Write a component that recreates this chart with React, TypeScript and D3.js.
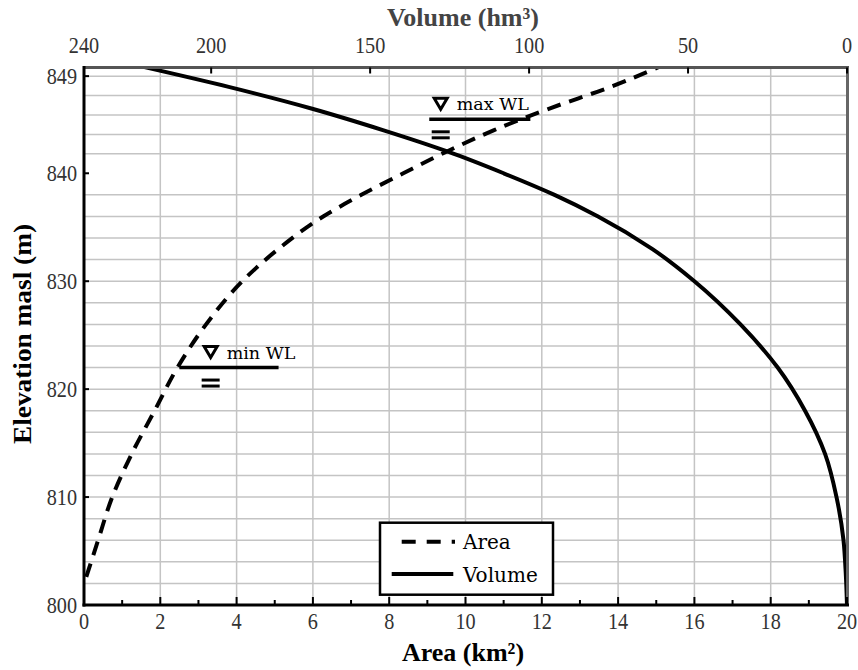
import React from "react";
import * as d3 from "d3";

// ---- data ----
const areaElev = [802.6, 806, 810, 814, 818, 822, 826, 830, 833, 836, 838, 840, 842, 844, 846, 848, 849.9];
const areaKm2 = [0.06, 0.37, 0.74, 1.25, 1.85, 2.45, 3.2, 4.15, 5.1, 6.27, 7.27, 8.37, 9.5, 10.75, 12.2, 13.8, 15.1];
const volElev = [800, 803, 806, 810, 814, 818, 822, 826, 830, 833, 836, 838, 840, 842, 844, 846, 848, 849.9];
const volHm3 = [0, 0.4, 1.1, 3.3, 6.9, 13.2, 21.8, 33.5, 48, 61.3, 78.3, 92, 108, 125.5, 146, 168.5, 194.5, 222];

const areaTicks = [0, 2, 4, 6, 8, 10, 12, 14, 16, 18, 20];
const areaMinorTicks = [1, 3, 5, 7, 9, 11, 13, 15, 17, 19];
const areaGrid = [2, 4, 6, 8, 10, 12, 14, 16, 18];
const volumeTicks = [240, 200, 150, 100, 50, 0];
const elevTicks = [800, 810, 820, 830, 840, 849];
const elevGrid = [802, 804, 806, 808, 810, 812, 814, 816, 818, 820, 822, 824, 826, 828, 830, 832, 834, 836, 838, 841.8, 843.6, 845.4, 847.2, 849];

const wlLabels = ["min WL", "max WL"];
const wlElev = [822, 845];
const wlFrom = [2.5, 9.05];
const wlTo = [5.1, 11.7];
const wlMark = [3.32, 9.35];

const legendLabels = ["Area", "Volume"];
const xTitle = "Area (km²)";
const x2Title = "Volume (hm³)";
const yTitle = "Elevation masl (m)";

export default function App() {
  const W = 858, H = 670;
  const left = 84, right = 847.5, top = 67.5, bottom = 605;
  const x = d3.scaleLinear().domain([0, 20]).range([left, 847]);
  const xv = d3.scaleLinear().domain([240, 0]).range([left, 847]);
  const y = d3.scaleLinear().domain([800, 849.8]).range([bottom, top]);

  const areaPts = areaElev.map((e, i) => [areaKm2[i], e] as [number, number]);
  const volPts = volElev.map((e, i) => [volHm3[i], e] as [number, number]);
  const areaLine = d3.line<[number, number]>().x(d => x(d[0])).y(d => y(d[1])).curve(d3.curveMonotoneY);
  const volLine = d3.line<[number, number]>().x(d => xv(d[0])).y(d => y(d[1])).curve(d3.curveMonotoneY);

  const tickFont = "'Liberation Serif', 'Times New Roman', serif";
  const annFont = "'DejaVu Serif', serif";
  const sx = 0.88;

  const lx = 380, ly = 522.7, lw = 173, lh = 72;

  const num = (key: string, v: number, px: number, py: number, anchor: string) => (
    <text key={key} transform={`translate(${px},${py}) scale(${sx},1)`} textAnchor={anchor}>{v}</text>
  );

  return (
    <svg width={W} height={H} style={{ position: "absolute", left: 0, top: 0, background: "#fff" }}>
      <defs>
        <clipPath id="plot">
          <rect x={left} y={top} width={right - left} height={bottom - top} />
        </clipPath>
      </defs>
      <rect x={0} y={0} width={W} height={H} fill="#fff" />
      {/* grid */}
      <g stroke="#c4c4c4" strokeWidth={1.5}>
        {elevGrid.map(v => (
          <line key={"gy" + v} x1={left} x2={right} y1={y(v)} y2={y(v)} />
        ))}
        {areaGrid.map(v => (
          <line key={"gx" + v} x1={x(v)} x2={x(v)} y1={top} y2={bottom} />
        ))}
      </g>

      {/* curves */}
      <g clipPath="url(#plot)" fill="none" stroke="#000">
        <path d={areaLine(areaPts) || ""} strokeWidth={4} strokeDasharray="14 9" />
        <path d={volLine(volPts) || ""} strokeWidth={4} />
      </g>

      {/* water levels */}
      {wlLabels.map((lab, i) => {
        const yy = y(wlElev[i]);
        const cx = x(wlMark[i]);
        return (
          <g key={lab}>
            <line x1={x(wlFrom[i])} x2={x(wlTo[i])} y1={yy} y2={yy} stroke="#000" strokeWidth={3.5} />
            <path d={`M${cx - 6.5},${yy - 21} L${cx + 6.5},${yy - 21} L${cx},${yy - 10} Z`} fill="#fff" stroke="#000" strokeWidth={3} strokeLinejoin="miter" />
            <text x={cx + 16} y={yy - 9} fontFamily={annFont} fontSize={17.5} fill="#000">{lab}</text>
            <rect x={cx - 9} y={yy + 11} width={18} height={3} fill="#000" />
            <rect x={cx - 9} y={yy + 17} width={18} height={3} fill="#000" />
          </g>
        );
      })}

      {/* frame */}
      <line x1={left} x2={849} y1={top} y2={top} stroke="#555" strokeWidth={3} />
      <line x1={right} x2={right} y1={top} y2={bottom} stroke="#666" strokeWidth={3} />
      <line x1={left} x2={left} y1={66} y2={606.5} stroke="#000" strokeWidth={3} />
      <line x1={82.5} x2={849} y1={bottom} y2={bottom} stroke="#000" strokeWidth={3} />

      {/* ticks */}
      <g stroke="#000" strokeWidth={2}>
        {elevTicks.map(v => (
          <line key={"ty" + v} x1={left} x2={left + 5} y1={y(v)} y2={y(v)} />
        ))}
        {areaTicks.map(v => (
          <line key={"tx" + v} x1={x(v)} x2={x(v)} y1={bottom} y2={bottom - 8} />
        ))}
        {areaMinorTicks.map(v => (
          <line key={"tm" + v} x1={x(v)} x2={x(v)} y1={bottom} y2={bottom - 5} />
        ))}
        {volumeTicks.map(v => (
          <line key={"tv" + v} x1={xv(v)} x2={xv(v)} y1={top} y2={top + 6} />
        ))}
      </g>

      {/* tick labels */}
      <g fontFamily={tickFont} fontSize={23} fill="#333">
        {elevTicks.map(v => num("ly" + v, v, 77, y(v) + 7.5, "end"))}
        {areaTicks.map(v => num("lx" + v, v, x(v), 629, "middle"))}
        {volumeTicks.map(v => num("lv" + v, v, xv(v), 53, "middle"))}
      </g>

      {/* axis titles */}
      <text x={463} y={661} textAnchor="middle" fontFamily={tickFont} fontWeight="bold" fontSize={26} fill="#000">{xTitle}</text>
      <text x={463} y={26} textAnchor="middle" fontFamily={tickFont} fontWeight="bold" fontSize={26} fill="#444">{x2Title}</text>
      <text transform={`translate(31,334) rotate(-90)`} textAnchor="middle" fontFamily={tickFont} fontWeight="bold" fontSize={26} fill="#000" textLength={220} lengthAdjust="spacingAndGlyphs">{yTitle}</text>

      {/* legend */}
      <rect x={lx} y={ly} width={lw} height={lh} fill="#fff" stroke="#000" strokeWidth={2.5} />
      <line x1={401.7} x2={455} y1={541.7} y2={541.7} stroke="#000" strokeWidth={4} strokeDasharray="14 11" />
      <line x1={391.7} x2={453.3} y1={574} y2={574} stroke="#000" strokeWidth={4} />
      <text x={463} y={549} fontFamily={annFont} fontSize={20} fill="#000">{legendLabels[0]}</text>
      <text x={463} y={582} fontFamily={annFont} fontSize={20} fill="#000">{legendLabels[1]}</text>
    </svg>
  );
}
